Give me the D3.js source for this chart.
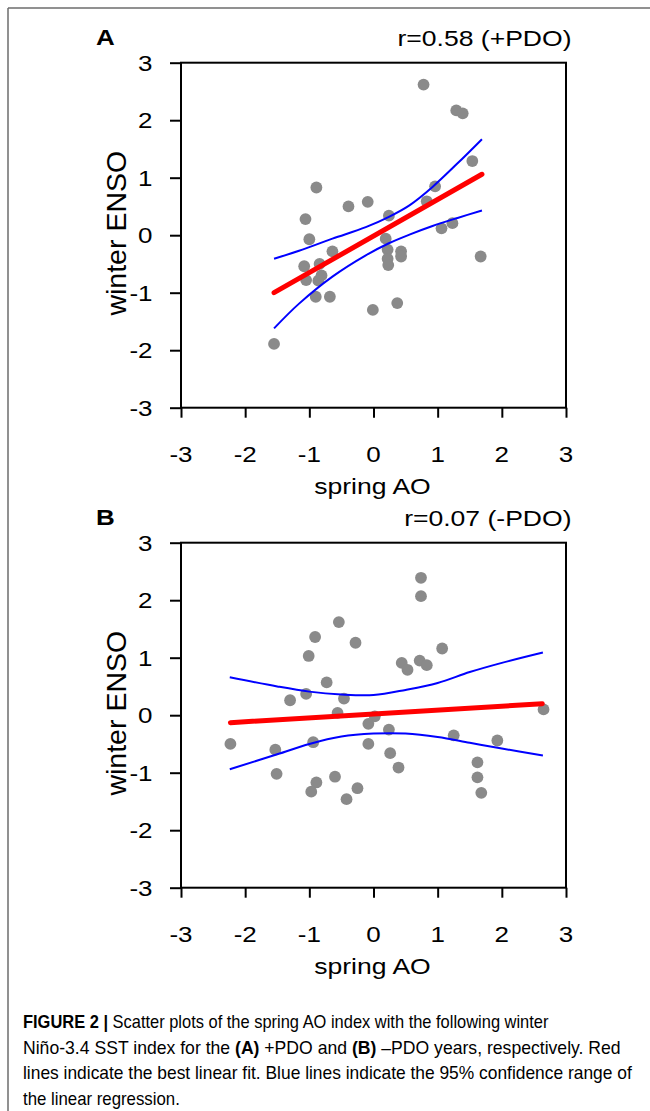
<!DOCTYPE html>
<html><head><meta charset="utf-8">
<script src="https://cdn.jsdelivr.net/npm/d3@7"></script>
<style>
body{margin:0;background:#fff}
svg{display:block}
text{font-family:"Liberation Sans",Arial,Helvetica,sans-serif;fill:#000}
</style>
</head><body>
<svg id="c" width="650" height="1111"></svg>
<script>
// ---------- data ----------
const xTicks = [-3, -2, -1, 0, 1, 2, 3];
const yTicks = [-3, -2, -1, 0, 1, 2, 3];
const panelLabels = ["A", "B"];
const rLabels = ["r=0.58 (+PDO)", "r=0.07 (-PDO)"];
const xTitle = "spring AO";
const yTitle = "winter ENSO";

// Panel A (+PDO years)
const aoPos =   [0.78, 1.29, 1.39, 1.54, 0.96, 0.83, -0.89, -0.39, -0.09, 0.24, -1.06, 1.06, 1.23, -1.00, 0.19, -0.64, 0.22, 0.43, 0.43, 0.22, 0.23, 1.67, -1.08, -0.84, -0.81, -1.05, -0.86, -0.90, -0.68, -0.01, 0.37, -1.55];
const ensoPos = [2.62, 2.17, 2.12, 1.29, 0.85, 0.59, 0.83, 0.50, 0.58, 0.34, 0.28, 0.12, 0.21, -0.07, -0.06, -0.28, -0.25, -0.28, -0.37, -0.41, -0.52, -0.37, -0.54, -0.50, -0.70, -0.78, -0.79, -1.07, -1.07, -1.30, -1.18, -1.89];
const fitPosX = [-1.55, 1.69];
const fitPosY = [-1.00, 1.06];
const ciPosX =     [-1.55, -1.16, -0.64, -0.12, 0.24, 0.56, 0.92, 1.31, 1.69];
const ciPosUpper = [-0.41, -0.27, -0.06, 0.14, 0.32, 0.52, 0.84, 1.25, 1.67];
const ciPosLower = [-1.62, -1.19, -0.72, -0.35, -0.14, 0.01, 0.16, 0.30, 0.43];

// Panel B (-PDO years)
const aoNeg =   [0.74, 0.74, -0.54, -0.91, -0.28, -1.01, 1.07, 0.44, 0.53, 0.72, 0.83, -0.73, -1.05, -1.30, -0.46, -0.56, 0.02, -0.08, 2.65, 0.24, -2.23, -1.53, -1.51, -0.94, -0.89, -0.97, -0.60, -0.42, -0.25, -0.08, 0.26, 0.39, 1.25, 1.93, 1.62, 1.62, 1.68];
const ensoNeg = [2.39, 2.07, 1.62, 1.36, 1.26, 1.03, 1.16, 0.91, 0.79, 0.95, 0.87, 0.57, 0.37, 0.26, 0.29, 0.04, -0.02, -0.15, 0.10, -0.25, -0.50, -0.60, -1.02, -0.47, -1.17, -1.33, -1.07, -1.46, -1.27, -0.50, -0.66, -0.91, -0.35, -0.44, -0.82, -1.08, -1.35];
const fitNegX = [-2.23, 2.63];
const fitNegY = [-0.13, 0.20];
const ciNegX =     [-2.24, -1.5, -1.0, -0.5, 0.0, 0.5, 1.0, 1.5, 2.0, 2.64];
const ciNegUpper = [0.66, 0.50, 0.41, 0.36, 0.35, 0.44, 0.56, 0.75, 0.91, 1.09];
const ciNegLower = [-0.94, -0.68, -0.50, -0.37, -0.32, -0.32, -0.38, -0.48, -0.58, -0.70];

const captionLines = [
  [["FIGURE 2 | ", true], ["Scatter plots of the spring AO index with the following winter", false]],
  [["Niño-3.4 SST index for the ", false], ["(A)", true], [" +PDO and ", false], ["(B)", true], [" –PDO years, respectively. Red", false]],
  [["lines indicate the best linear fit. Blue lines indicate the 95% confidence range of", false]],
  [["the linear regression.", false]]
];

// ---------- drawing ----------
const svg = d3.select("#c");
const SX = 1.18; // horizontal stretch of the original figure's lettering

// outer border (left + top)
svg.append("line").attr("x1", 8).attr("y1", 8).attr("x2", 650).attr("y2", 8).attr("stroke", "#6d6d6d").attr("stroke-width", 1.5);
svg.append("line").attr("x1", 8).attr("y1", 8).attr("x2", 8).attr("y2", 1111).attr("stroke", "#6d6d6d").attr("stroke-width", 1.5);

function txt(g, x, y, s, anchor, size, weight) {
  const t = g.append("g").attr("transform", `translate(${x},${y}) scale(${SX},1)`)
    .append("text").attr("text-anchor", anchor).style("font-size", size + "px").text(s);
  if (weight) t.style("font-weight", weight);
  return t;
}

const panels = [
  {top: 62.7, ao: aoPos, enso: ensoPos, fx: fitPosX, fy: fitPosY, cx: ciPosX, cu: ciPosUpper, cl: ciPosLower},
  {top: 542.7, ao: aoNeg, enso: ensoNeg, fx: fitNegX, fy: fitNegY, cx: ciNegX, cu: ciNegUpper, cl: ciNegLower}
];
const left = 181, right = 566, h = 345;

panels.forEach((p, i) => {
  const g = svg.append("g");
  const x = d3.scaleLinear().domain([-3, 3]).range([left, right]);
  const y = d3.scaleLinear().domain([-3, 3]).range([p.top + h, p.top]);

  // frame
  g.append("rect").attr("x", left).attr("y", p.top).attr("width", right - left).attr("height", h)
    .attr("fill", "none").attr("stroke", "#000").attr("stroke-width", 2);

  // axes (outward ticks)
  const ya = g.append("g").attr("transform", `translate(${left},0)`)
    .call(d3.axisLeft(y).tickValues(yTicks).tickSize(11).tickFormat(""));
  const xa = g.append("g").attr("transform", `translate(0,${p.top + h})`)
    .call(d3.axisBottom(x).tickValues(xTicks).tickSize(10).tickFormat(""));
  [ya, xa].forEach(a => {
    a.select(".domain").remove();
    a.selectAll("line").attr("stroke", "#000").attr("stroke-width", 2);
  });

  yTicks.forEach(v => txt(g, 152.5, y(v) + 8, String(v), "end", 22));
  xTicks.forEach(v => txt(g, x(v), p.top + h + 54, String(v), "middle", 22));

  txt(g, 372.5, p.top + h + 86, xTitle, "middle", 22.5);
  g.append("g").attr("transform", `translate(126,${p.top + h / 2 - 2}) rotate(-90)`)
    .append("text").attr("text-anchor", "middle").style("font-size", "28.5px").text(yTitle);

  txt(g, 96, p.top - 17.5, panelLabels[i], "start", 22, "bold");
  txt(g, 571.5, p.top - 17, rLabels[i], "end", 22.5);

  // points
  g.append("g").selectAll("circle").data(p.ao.map((a, k) => [a, p.enso[k]])).join("circle")
    .attr("cx", d => x(d[0])).attr("cy", d => y(d[1])).attr("r", 5.9).attr("fill", "#8a8a8a");

  // confidence band lines
  const line = d3.line().x(d => x(d[0])).y(d => y(d[1])).curve(d3.curveCatmullRom);
  [p.cu, p.cl].forEach(arr => {
    g.append("path").datum(p.cx.map((v, k) => [v, arr[k]])).attr("d", line)
      .attr("fill", "none").attr("stroke", "#0000ff").attr("stroke-width", 2);
  });
  // fit line
  g.append("path").datum(p.fx.map((v, k) => [v, p.fy[k]])).attr("d", d3.line().x(d => x(d[0])).y(d => y(d[1])))
    .attr("fill", "none").attr("stroke", "#ff0000").attr("stroke-width", 5).attr("stroke-linecap", "round");
});

// caption
const capBase = [1028, 1053.5, 1079, 1104.5];
const capEnd = [549, 621, 632, 180];
captionLines.forEach((parts, i) => {
  const g = svg.append("g");
  const t = g.append("text").attr("x", 0).attr("y", 0).style("font-size", "17.5px");
  parts.forEach(([s, b]) => {
    const ts = t.append("tspan").text(s);
    if (b) ts.style("font-weight", "bold");
  });
  const w = t.node().getComputedTextLength();
  g.attr("transform", `translate(23,${capBase[i]}) scale(${(capEnd[i] - 23) / w},1)`);
});
</script>
</body></html>
